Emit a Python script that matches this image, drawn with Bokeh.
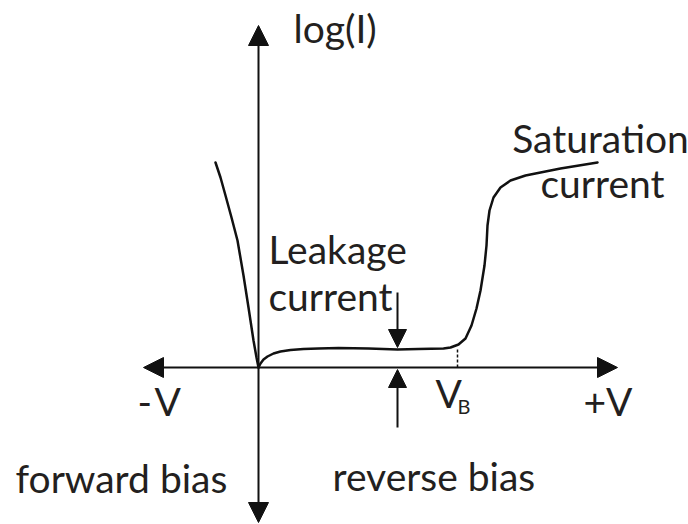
from bokeh.plotting import figure
from bokeh.models import Range1d, Arrow, NormalHead, Label
from bokeh.embed import file_html
from bokeh.resources import INLINE

# Forward-bias branch (V < 0): voltage vs log(I), schematic units
fwd_v = [-43, -38, -33, -27, -21, -15, -10, -5, -2, 0]
fwd_logi = [205, 190, 172, 150, 127, 92, 60, 27, 10, 0]

# Reverse-bias branch (V > 0): leakage plateau, breakdown at V_B, saturation
rev_v = [0, 2, 5, 9, 15, 22, 32, 45, 60, 80, 110, 139, 160, 185, 192, 200, 207,
         213, 218, 222, 226, 228, 229, 231, 235, 242, 252, 267, 302, 339]
rev_logi = [0, 4, 8, 11, 14, 16, 17.5, 18.5, 19, 19.5, 19, 18, 18.5, 19, 20, 23, 29,
            42, 59, 77, 102, 122, 142, 157, 170, 180, 187, 192, 199, 205]

v_breakdown = 199
leak_v = 139
leak_level = 19

W, H = 688, 524
p = figure(width=W, height=H, output_backend="svg", toolbar_location=None,
           x_range=Range1d(-258, 430), y_range=Range1d(-157, 367),
           min_border=0, outline_line_color=None)
p.axis.visible = False
p.grid.visible = False
p.background_fill_color = "white"
p.border_fill_color = "white"

ink = "#111111"
txt = "#231f20"

# axes with arrow heads
p.add_layout(Arrow(x_start=-115, y_start=0, x_end=359, y_end=0,
                   start=NormalHead(size=20, fill_color=ink, line_color=ink, line_width=1),
                   end=NormalHead(size=20, fill_color=ink, line_color=ink, line_width=1),
                   line_width=2, line_color=ink))
p.add_layout(Arrow(x_start=0, y_start=-155, x_end=0, y_end=342,
                   start=NormalHead(size=20, fill_color=ink, line_color=ink, line_width=1),
                   end=NormalHead(size=20, fill_color=ink, line_color=ink, line_width=1),
                   line_width=2, line_color=ink))

# curves
p.line(fwd_v, fwd_logi, line_width=2.5, line_color=ink, line_join="round", line_cap="round")
p.line(rev_v, rev_logi, line_width=2.5, line_color=ink, line_join="round", line_cap="round")

# V_B tick
p.line([v_breakdown, v_breakdown], [0, leak_level + 1], line_width=1.5, line_color=ink,
       line_dash="3 2")

# leakage arrows
p.add_layout(Arrow(x_start=leak_v, y_start=75, x_end=leak_v, y_end=leak_level + 1,
                   end=NormalHead(size=18, fill_color=ink, line_color=ink, line_width=1),
                   line_width=2, line_color=ink))
p.add_layout(Arrow(x_start=leak_v, y_start=-60, x_end=leak_v, y_end=-2,
                   end=NormalHead(size=18, fill_color=ink, line_color=ink, line_width=1),
                   line_width=2, line_color=ink))

FONT = "Lato"
FS = "39px"
DY = 15

def lab(text, x, y, size=FS, align="left"):
    p.add_layout(Label(x=x, y=y + DY, text=text, text_font=FONT, text_font_size=size,
                       text_color=txt, text_align=align, text_baseline="alphabetic"))

lab("log(I)", 35, 325)
lab("Saturation", 342, 215, align="center")
lab("current", 344, 170, align="center")
lab("Leakage", 10, 104)
lab("current", 10, 57)
lab("-\u200aV", -121, -48)
lab("V", 177, -40)
lab("B", 199, -53, size="20px")
lab("+V", 325, -48)
lab("forward bias", -243, -125)
lab("reverse bias", 74, -123)

open("out.html", "w").write(file_html(p, INLINE))
